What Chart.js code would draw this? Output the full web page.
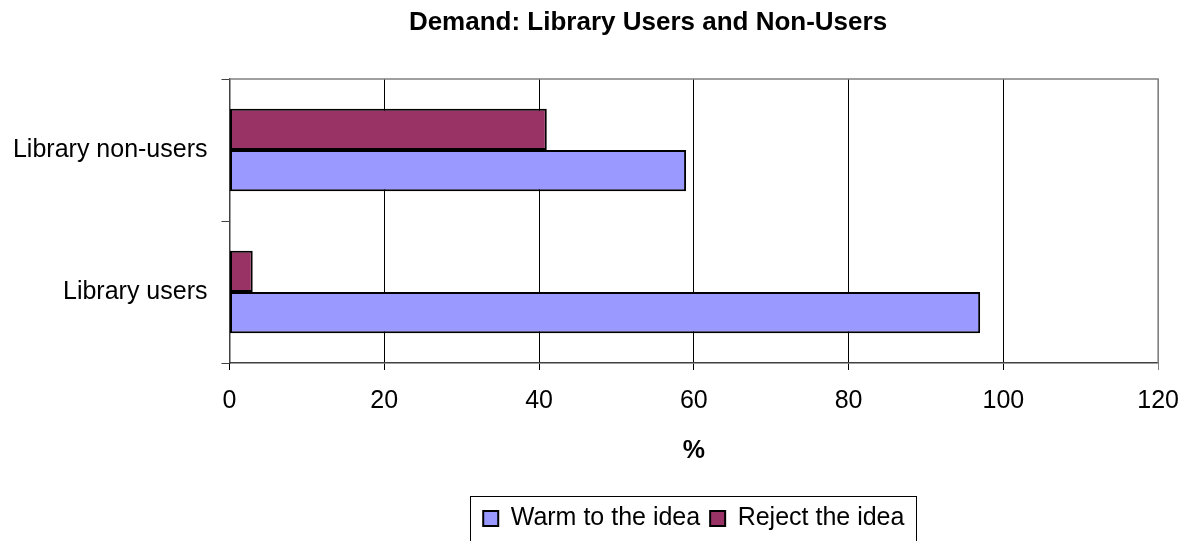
<!DOCTYPE html>
<html>
<head>
<meta charset="utf-8">
<script src="https://cdn.jsdelivr.net/npm/chart.js@4.4.0/dist/chart.umd.min.js"></script>
<style>
  html, body { margin: 0; padding: 0; background: #fff; }
  #wrap { width: 1195px; height: 541px; }
</style>
</head>
<body>
<div id="wrap"><canvas id="demandChart"></canvas></div>
<script>
(function() {
    "use strict";

    // data
    var categories = ['Library non-users', 'Library users'];
    var warmValues = [59, 97];
    var rejectValues = [41, 3];
    var seriesNames = ['Warm to the idea', 'Reject the idea'];
    var xTicks = [0, 20, 40, 60, 80, 100, 120];
    var chartTitle = 'Demand: Library Users and Non-Users';

    Chart.defaults.font.family = "'Liberation Sans', Arial, sans-serif";
    Chart.defaults.color = '#000';

    // grey top/right edge of the plot area
    var plotFrame = {
        id: 'plotFrame',
        beforeDatasetsDraw: function(chart) {
            var a = chart.chartArea, ctx = chart.ctx;
            ctx.save();
            ctx.strokeStyle = '#808080';
            ctx.lineWidth = 1.5;
            ctx.beginPath();
            ctx.moveTo(a.left, a.top);
            ctx.lineTo(a.right, a.top);
            ctx.lineTo(a.right, a.bottom);
            ctx.stroke();
            ctx.restore();
        }
    };

    // title sits a bit left of the plot centre, like the excel original
    var offsetTitle = {
        id: 'offsetTitle',
        afterDraw: function(chart) {
            var ctx = chart.ctx;
            ctx.save();
            ctx.font = "bold 26px 'Liberation Sans', Arial, sans-serif";
            ctx.fillStyle = '#000';
            ctx.textAlign = 'center';
            ctx.textBaseline = 'middle';
            ctx.fillText(chartTitle, 648, 23);
            ctx.restore();
        }
    };

    // box round the legend
    var legendBox = {
        id: 'legendBox',
        afterDraw: function(chart) {
            var hb = chart.legend.legendHitBoxes;
            if (!hb || !hb.length) return;
            var left = Infinity, right = -Infinity;
            hb.forEach(function(b) {
                left = Math.min(left, b.left);
                right = Math.max(right, b.left + b.width);
            });
            var cy = hb[0].top + hb[0].height / 2;
            var ctx = chart.ctx;
            ctx.save();
            ctx.strokeStyle = '#000';
            ctx.lineWidth = 1;
            ctx.strokeRect(Math.round(left - 13) + 0.5, Math.round(cy - 22.5) + 0.5, Math.round(right - left + 25), 45);
            ctx.restore();
        }
    };

    var ctx = document.getElementById('demandChart');
    var myChart = new Chart(ctx, {
        type: 'bar',
        data: {
            labels: categories,
            datasets: [{
                label: seriesNames[1],
                data: rejectValues,
                backgroundColor: '#993366',
                borderColor: '#000',
                borderWidth: 2,
                borderSkipped: false
            }, {
                label: seriesNames[0],
                data: warmValues,
                backgroundColor: '#9999FF',
                borderColor: '#000',
                borderWidth: 2,
                borderSkipped: false
            }]
        },
        options: {
            indexAxis: 'y',
            responsive: true,
            maintainAspectRatio: false,
            animation: false,
            categoryPercentage: 0.58,
            barPercentage: 1,
            layout: {
                padding: { left: 0, right: 36, top: 79, bottom: 0 }
            },
            scales: {
                x: {
                    min: 0,
                    max: 120,
                    afterBuildTicks: function(axis) {
                        axis.ticks = xTicks.map(function(v) { return { value: v }; });
                    },
                    afterFit: function(scale) { scale.height = 133; },
                    grid: {
                        color: function(c) { return c.tick && c.tick.value === 120 ? '#808080' : '#000'; },
                        lineWidth: 1,
                        tickLength: 7
                    },
                    border: { color: '#404040', width: 1.5 },
                    ticks: { font: { size: 25 }, padding: 16, color: '#000' },
                    title: {
                        display: true,
                        text: '%',
                        font: { size: 25, weight: 'bold' },
                        padding: { top: 0, bottom: 30 }
                    }
                },
                y: {
                    afterFit: function(scale) { scale.width = 229.5; },
                    grid: {
                        offset: true,
                        drawOnChartArea: false,
                        color: '#404040',
                        tickLength: 8
                    },
                    border: { color: '#404040', width: 1.5 },
                    ticks: { font: { size: 25 }, padding: 14, color: '#000' }
                }
            },
            plugins: {
                title: { display: false },
                legend: {
                    position: 'bottom',
                    fullSize: false,
                    reverse: true,
                    labels: {
                        boxWidth: 15,
                        boxHeight: 15,
                        padding: 10,
                        color: '#000',
                        font: { size: 25 }
                    }
                },
                tooltip: { enabled: false }
            }
        },
        plugins: [plotFrame, offsetTitle, legendBox]
    });
})();
</script>
</body>
</html>
